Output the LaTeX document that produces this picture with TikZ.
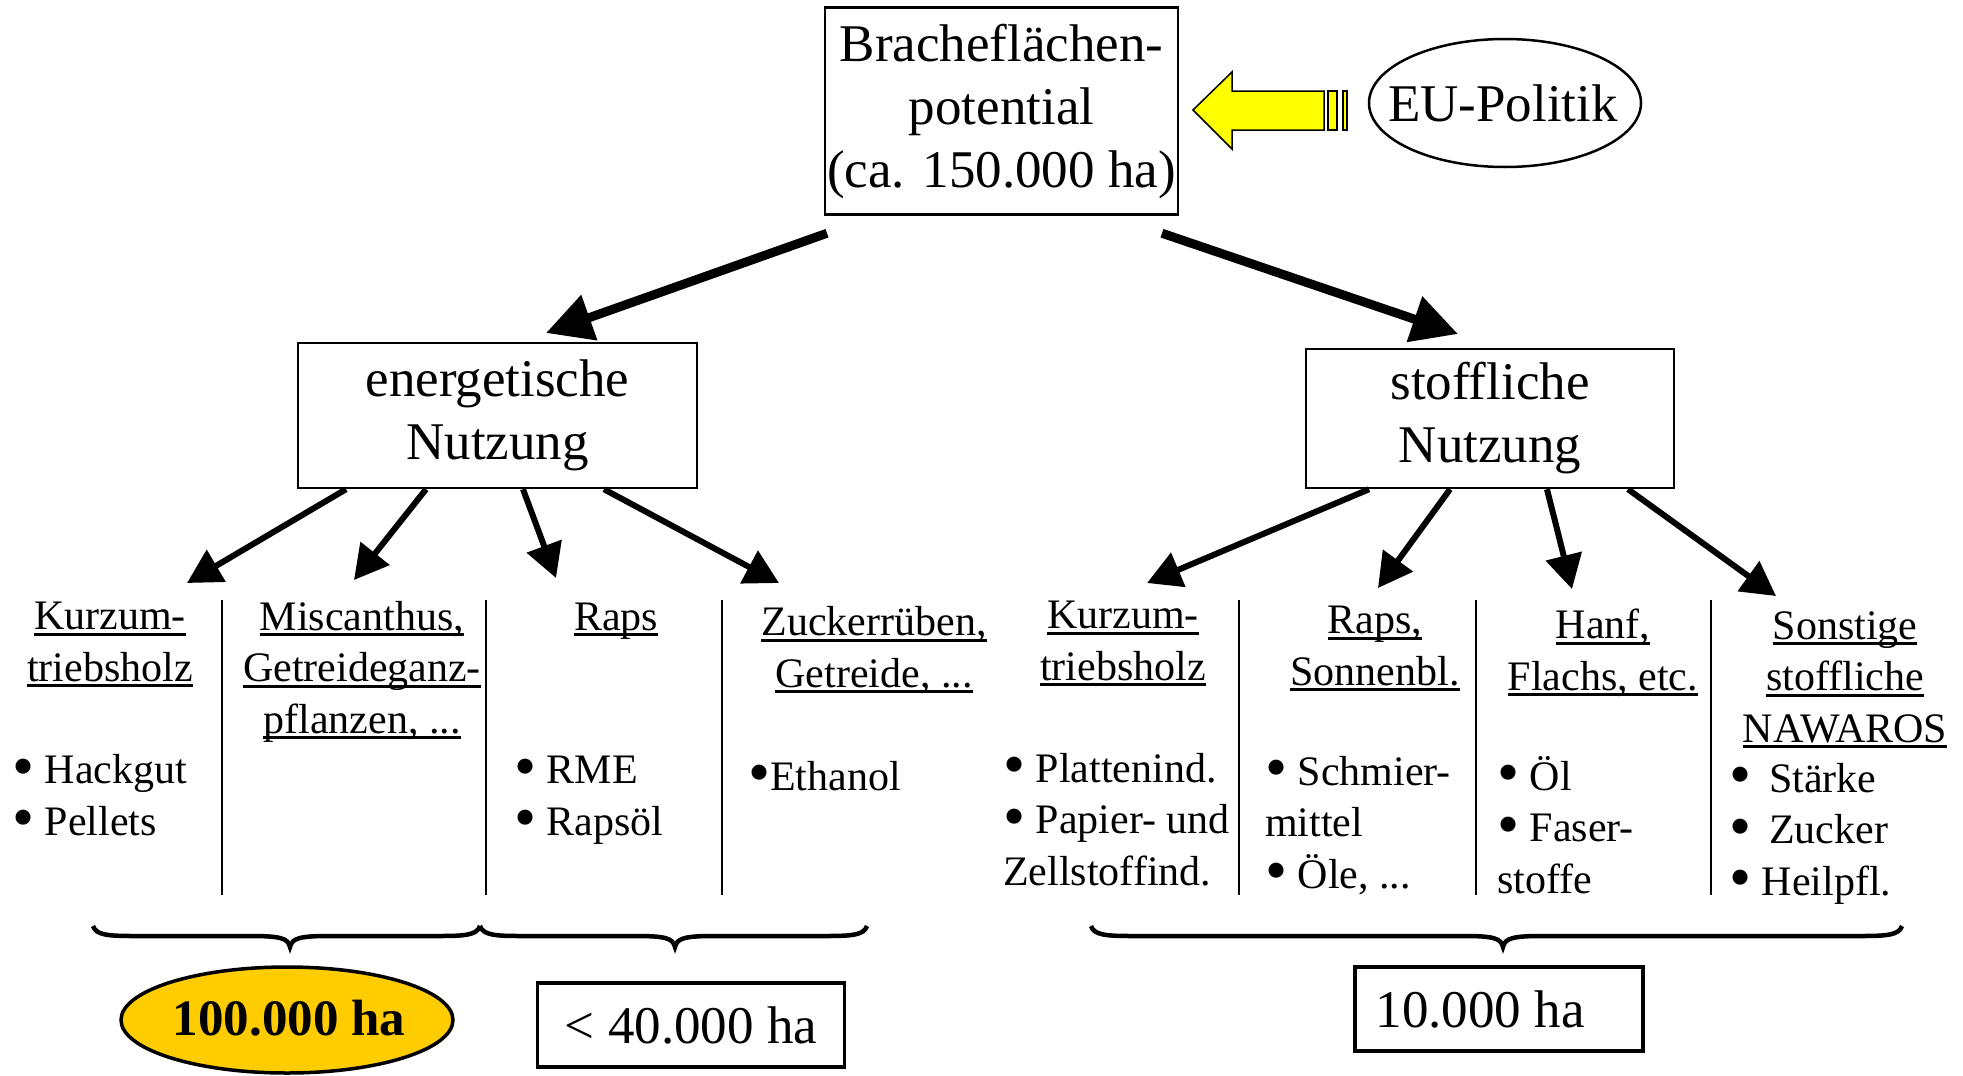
\documentclass[tikz,border=0pt]{standalone}
\usepackage{fontspec}
\usepackage{graphicx}
\setmainfont{Liberation Serif}
\usetikzlibrary{arrows.meta,shapes.geometric}
\newcommand\ulx[1]{\setbox0\hbox{#1}\rlap{\rule[-6pt]{\wd0}{2.8pt}}\box0}
\newcommand\bul{\raisebox{-3.5pt}{\scalebox{1.5}{•}}}
\definecolor{gold}{HTML}{FFCC00}
\definecolor{arryellow}{HTML}{FFFF00}
\tikzset{
  bigfont/.style={font=\fontsize{53}{63}\selectfont},
  colfont/.style={font=\fontsize{42}{51.5}\selectfont},
  bigbox/.style={draw, line width=2.5pt, inner sep=2pt, align=center, bigfont},
  sumbox/.style={draw, line width=3.5pt, inner sep=2pt, align=center, bigfont},
  header/.style={colfont, align=center, anchor=base, inner sep=0pt},
  items/.style={colfont, align=left, anchor=base west, inner sep=0pt},
  bigarr/.style={line width=9pt, -{Triangle[length=46pt,width=46pt]}},
  smallarr/.style={line width=6pt, -{Triangle[length=34pt,width=36pt]}},
  sep/.style={line width=2.5pt},
  bracepath/.style={line width=4.5pt},
}
\newcommand\bracedraw[3]{% xL, xm, xR
  \draw[bracepath] (#1,926) .. controls (#1+3,935) and (#1+15,936) .. (#1+40,936)
    -- (#2-40,936) .. controls (#2-10,936) and (#2-2,938) .. (#2,947)
    .. controls (#2+2,938) and (#2+10,936) .. (#2+40,936)
    -- (#3-40,936) .. controls (#3-15,936) and (#3-3,935) .. (#3,926);}
\begin{document}
\begin{tikzpicture}[x=1pt,y=-1pt]
\useasboundingbox (0,0) rectangle (1963,1076);

% top level
\node[bigbox, minimum width=353pt, minimum height=207pt] (top) at (1001.5,111)
  {Bracheflächen-\\potential\\(ca. 150.000 ha)};
\node[bigfont, inner sep=0pt] (eu) at (1503,103) {EU-Politik};
\draw[line width=2.5pt] (1505,103) ellipse [x radius=136pt, y radius=64pt];

% yellow arrow from EU-Politik to the box
\draw[line width=1.5pt, fill=arryellow] (1193,110) -- (1232,72) -- (1232,91) -- (1324,91)
  -- (1324,130) -- (1232,130) -- (1232,149) -- cycle;
\draw[line width=1.5pt, fill=arryellow] (1328,91) rectangle (1337,130);
\draw[line width=1.5pt, fill=arryellow] (1343,91) rectangle (1347,130);

% second level
\node[bigbox, minimum width=399pt, minimum height=145pt] (en) at (497.5,415.5)
  {energetische\\Nutzung};
\node[bigbox, minimum width=368pt, minimum height=139pt] (st) at (1490,418.5)
  {stoffliche\\Nutzung};

\coordinate (tL) at (546,333);
\coordinate (tR) at (1458,334);
\draw[bigarr] ([xshift=-174.5pt,yshift=-17.5pt]top.south) -- (tL);
\draw[bigarr] ([xshift=160.5pt,yshift=-17.5pt]top.south) -- (tR);

% arrows to columns
\coordinate (e1) at (187,583);
\coordinate (e2) at (354,580);
\coordinate (e3) at (556,578);
\coordinate (e4) at (779,583);
\draw[smallarr] ([xshift=-151.5pt]en.south) -- (e1);
\draw[smallarr] ([xshift=-71.5pt]en.south) -- (e2);
\draw[smallarr] ([xshift=25.5pt]en.south) -- (e3);
\draw[smallarr] ([xshift=106.5pt]en.south) -- (e4);

\coordinate (s1) at (1147,583);
\coordinate (s2) at (1378,588);
\coordinate (s3) at (1572,589);
\coordinate (s4) at (1776,596);
\draw[smallarr] ([xshift=-121pt]st.south) -- (s1);
\draw[smallarr] ([xshift=-40pt]st.south) -- (s2);
\draw[smallarr] ([xshift=57pt]st.south) -- (s3);
\draw[smallarr] ([xshift=138pt]st.south) -- (s4);

% separators
\foreach \x/\n in {222/a,486/b,722/c,1239/d,1476/e,1711/f}{
  \coordinate (sep\n t) at (\x,600);
  \coordinate (sep\n b) at (\x,895);
  \draw[sep] (sep\n t) -- (sep\n b);
}

% energetic columns (anchor base = baseline of last line)
\node[header] (hA) at (110,681) {\ulx{Kurzum-}\\\ulx{triebsholz}};
\node[items] (iA) at (12,835) {\bul{} Hackgut\\\bul{} Pellets};
\node[header] (hB) at (362,733) {\ulx{Miscanthus,}\\\ulx{Getreideganz-}\\\ulx{pflanzen, ...}};
\node[header] (hC) at (616,630) {\ulx{Raps}};
\node[items] (iC) at (514,835) {\bul{} RME\\\bul{} Rapsöl};
\node[header] (hD) at (874,687) {\ulx{Zuckerrüben,}\\\ulx{Getreide, ...}};
\node[items] (iD) at (748,790) {\bul{}Ethanol};

% material columns
\node[header] (hE) at (1123,680) {\ulx{Kurzum-}\\\ulx{triebsholz}};
\node[items] (iE) at (1003,885) {\bul{} Plattenind.\\\bul{} Papier- und\\Zellstoffind.};
\node[header] (hF) at (1375,685) {\ulx{Raps,}\\\ulx{Sonnenbl.}};
\node[items] (iF) at (1265,888) {\bul{} Schmier-\\mittel\\\bul{} Öle, ...};
\node[header] (hG) at (1603,690) {\ulx{Hanf,}\\\ulx{Flachs, etc.}};
\node[items] (iG) at (1497,893) {\bul{} Öl\\\bul{} Faser-\\stoffe};
\node[header] (hH) at (1845,742) {\ulx{Sonstige}\\\ulx{stoffliche}\\\ulx{NAWAROS}};
\node[items] (iH) at (1729,895) {\bul\hspace{18pt}Stärke\\\bul\hspace{18pt}Zucker\\\bul{} Heilpfl.};

% braces
\bracedraw{93}{290}{480}
\bracedraw{480}{675}{867}
\bracedraw{1091}{1503}{1902}

% sums
\fill[gold] (287,1020) ellipse [x radius=166pt, y radius=53pt];
\draw[line width=3.5pt] (287,1020) ellipse [x radius=166pt, y radius=53pt];
\node[inner sep=0pt, font=\fontsize{51}{60}\selectfont\bfseries] (sum1) at (289,1018) {100.000 ha};
\node[sumbox, minimum width=307pt, minimum height=84pt] (sum2) at (691,1025) {< 40.000 ha};
\node[sumbox, minimum width=288pt, minimum height=84pt] (sum3) at (1499,1009) {10.000 ha\hspace{38pt}};
\end{tikzpicture}
\end{document}
